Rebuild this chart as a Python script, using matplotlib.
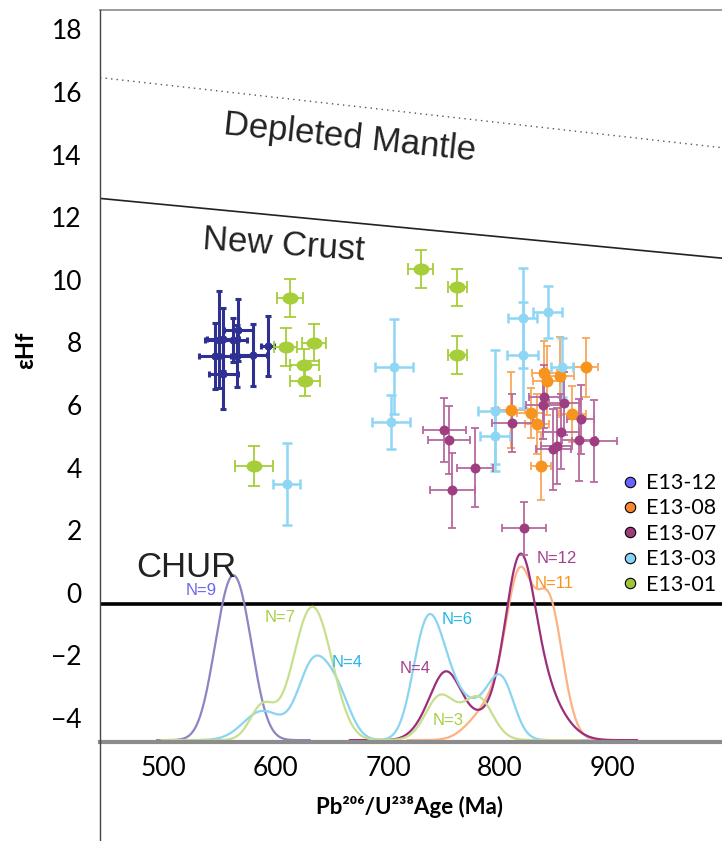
import numpy as np
import matplotlib.pyplot as plt
from matplotlib.lines import Line2D
from matplotlib.path import Path

# --- 1. DATA ---
samples = ["E13-12", "E13-08", "E13-07", "E13-03", "E13-01"]

# U-Pb age (Ma), eHf and 2 sigma errors for each sample
e13_12_age = [566.3, 552.9, 549.1, 561.9, 545.5, 564.9, 579.2, 592.6, 552.9]
e13_12_ehf = [8.40, 8.10, 8.08, 8.08, 7.57, 7.57, 7.60, 7.89, 6.98]
e13_12_xerr = [13, 14, 12, 12, 14, 14, 13, 6, 13]
e13_12_yerr = [1.0, 1.0, 1.55, 0.7, 1.05, 1.0, 1.0, 0.95, 1.1]

e13_08_age = [876.5, 839.6, 841.7, 853.6, 809.8, 827.4, 832.8, 864.6, 836.6]
e13_08_ehf = [7.20, 7.03, 6.78, 6.93, 5.84, 5.75, 5.39, 5.71, 4.05]
e13_08_xerr = [10.7, 11, 12, 12, 12, 12, 11, 12, 9]
e13_08_yerr = [0.94, 1.0, 1.1, 1.25, 1.2, 0.8, 0.95, 0.9, 1.1]

e13_07_age = [750.3, 754.5, 777.7, 757.4, 811.0, 839.6, 838.7, 857.4, 872.1,
              854.5, 870.5, 884.2, 847.6, 850.6, 821.4]
e13_07_ehf = [5.20, 4.88, 4.00, 3.28, 5.42, 6.27, 6.00, 6.05, 5.54,
              5.15, 4.88, 4.85, 4.58, 4.69, 2.06]
e13_07_xerr = [19, 19, 16, 20, 18, 14, 16, 14, 12, 16, 15, 20, 16, 14, 20]
e13_07_yerr = [1.02, 1.1, 1.25, 1.2, 0.92, 1.0, 1.1, 1.0, 1.1, 1.2, 1.3, 1.3,
               1.3, 1.2, 0.85]

e13_03_age = [609.8, 705.6, 702.7, 820.2, 820.2, 795.5, 795.5, 842.6, 855.1]
e13_03_ehf = [3.48, 7.22, 5.45, 8.77, 7.60, 5.82, 5.01, 8.98, 7.20]
e13_03_xerr = [12, 17, 17, 13, 14, 15, 13, 13, 10]
e13_03_yerr = [1.3, 1.52, 0.86, 1.6, 1.7, 1.93, 0.9, 0.83, 0.95]

e13_01_age = [612.5, 608.7, 633.9, 625.3, 625.9, 580.6, 729.2, 761.9, 761.9]
e13_01_ehf = [9.41, 7.86, 7.99, 7.28, 6.78, 4.05, 10.34, 9.76, 7.60]
e13_01_xerr = [11.6, 10, 11, 13, 13, 17, 11, 8.6, 8.6]
e13_01_yerr = [0.6, 0.6, 0.6, 0.5, 0.5, 0.65, 0.6, 0.6, 0.6]

# ages + errors behind the probability density curves at the bottom
kde_e13_12_age = [548, 552, 555, 559, 562, 565, 569, 572, 576]
kde_e13_12_err = [12, 12, 12, 12, 12, 12, 12, 12, 12]
kde_e13_08_age = [785, 803, 811, 816, 819, 822, 829, 838, 843, 847, 853]
kde_e13_08_err = [15, 12, 11, 10, 10, 11, 12, 10, 10, 10, 11]
kde_e13_07_age = [738, 748, 756, 766, 792, 806, 810, 813, 816, 818, 820, 823,
                  827, 832, 840, 850]
kde_e13_07_err = [13, 11, 11, 14, 16, 12, 12, 11, 11, 11, 11, 11, 12, 12, 14, 16]
kde_e13_03_age = [588, 630, 636, 655, 728, 736, 744, 756, 786, 802]
kde_e13_03_err = [17, 13, 13, 12, 11, 11, 12, 14, 16, 11]
kde_e13_01_age = [588, 620, 625, 630, 635, 640, 647, 745, 762, 782]
kde_e13_01_err = [11, 14, 14, 14, 14, 14, 14, 12, 20, 12]
# peak height of each curve above the base line (eHf units)
kde_peak = [5.27, 5.54, 5.96, 4.03, 4.26]

# evolution lines
dm_age = [443, 998]
dm_ehf = [16.46, 14.22]
nc_age = [443, 998]
nc_ehf = [12.60, 10.69]
chur_ehf = -0.36

# --- 2. STYLE ---
dot_colors = ["#2e3192", "#f7941d", "#9e3d80", "#8fd6f5", "#a6ce39"]
bar_colors = ["#2e3192", "#f8a75a", "#b86a9f", "#8fd6f5", "#a6ce39"]
kde_colors = ["#8b86c3", "#fbb383", "#9c2e7a", "#8ad4f2", "#c8df8e"]
leg_colors = ["#6666ff", "#f7882f", "#9e3d7c", "#87d3f3", "#9ec63b"]
label_colors = ["#6b66f0", "#f7941d", "#a5418c", "#26b5e6", "#a8cf45"]

# wide ellipse marker for E13-01
circ = Path.unit_circle()
ellipse = Path(circ.vertices * np.array([1.0, 0.75]), circ.codes)

XMIN, XMAX = 443, 998
YMIN, YMAX = -4.76, 18.62

fig = plt.figure(figsize=(7.22, 8.41), dpi=100)
ax = fig.add_axes([100 / 722, (841 - 741.7) / 841, 622 / 722, 731.7 / 841])

# --- 3. EVOLUTION LINES ---
ax.plot(dm_age, dm_ehf, color="#555555", lw=1.0, ls=(0, (1, 3)))
ax.plot(nc_age, nc_ehf, color="#222222", lw=1.2)
ax.axhline(chur_ehf, color="black", lw=2.6)

txt_font = ["Liberation Sans", "DejaVu Sans"]
ax.text(666, 14.55, "Depleted Mantle", fontsize=25, rotation=-6, color="#222222",
        ha="center", va="center", family=txt_font)
ax.text(607, 11.11, "New Crust", fontsize=25, rotation=-4, color="#222222",
        ha="center", va="center", family=txt_font)
ax.text(520, 0.81, "CHUR", fontsize=25, color="#222222",
        ha="center", va="center", family=txt_font)

# --- 4. PROBABILITY DENSITY CURVES ---
kde_ages = [kde_e13_12_age, kde_e13_08_age, kde_e13_07_age, kde_e13_03_age, kde_e13_01_age]
kde_errs = [kde_e13_12_err, kde_e13_08_err, kde_e13_07_err, kde_e13_03_err, kde_e13_01_err]
for ages, errs, peak, col in zip(kde_ages, kde_errs, kde_peak, kde_colors):
    a = np.asarray(ages, float)[:, None]
    s = np.asarray(errs, float)[:, None]
    grid = np.linspace(a.min() - 4.5 * s.max(), a.max() + 4.5 * s.max(), 600)
    dens = (np.exp(-0.5 * ((grid - a) / s) ** 2) / (s * np.sqrt(2 * np.pi))).sum(axis=0)
    ax.plot(grid, YMIN + 0.05 + peak * dens / dens.max(), color=col, lw=1.6, zorder=2)

n_labels = [(533.7, 0.07, "N=9", 0), (603.6, -0.78, "N=7", 4), (663.1, -2.22, "N=4", 3),
            (724.1, -2.41, "N=4", 2), (761.9, -0.85, "N=6", 3), (753.8, -4.09, "N=3", 4),
            (850.6, 1.10, "N=12", 2), (848.2, 0.30, "N=11", 1)]
for x, y, t, ci in n_labels:
    ax.text(x, y, t, fontsize=12, color=label_colors[ci], ha="center", va="center",
            family=txt_font)

# --- 5. Hf DATA WITH ERROR BARS ---
groups = [
    (e13_12_age, e13_12_ehf, e13_12_xerr, e13_12_yerr, 0, "o", 5.8, 2.2, 2.5),
    (e13_08_age, e13_08_ehf, e13_08_xerr, e13_08_yerr, 1, "o", 8.6, 1.3, 3.0),
    (e13_03_age, e13_03_ehf, e13_03_xerr, e13_03_yerr, 3, "o", 7.2, 1.8, 3.5),
    (e13_07_age, e13_07_ehf, e13_07_xerr, e13_07_yerr, 2, "o", 7.2, 1.3, 3.0),
    (e13_01_age, e13_01_ehf, e13_01_xerr, e13_01_yerr, 4, ellipse, 11.5, 1.3, 4.5),
]
for age, ehf, xe, ye, ci, mk, ms, elw, cap in groups:
    ax.errorbar(age, ehf, xerr=xe, yerr=ye, fmt="none", ecolor=bar_colors[ci],
                elinewidth=elw, capsize=cap, capthick=elw, zorder=3)
    ax.plot(age, ehf, ls="", marker=mk, ms=ms, color=dot_colors[ci], mew=0, zorder=4)

# --- 6. AXES ---
ax.set_xlim(XMIN, XMAX)
ax.set_ylim(YMIN, YMAX)
ax.set_xticks([500, 600, 700, 800, 900])
ax.set_yticks(np.arange(-4, 19, 2))
num_font = ["Lato", "DejaVu Sans"]
ax.tick_params(length=0, labelsize=19)
ax.tick_params(axis="y", pad=13)
ax.tick_params(axis="x", pad=10)
for lab in ax.get_xticklabels() + ax.get_yticklabels():
    lab.set_family(num_font)

ax.spines["right"].set_visible(False)
ax.spines["left"].set_visible(False)
ax.spines["top"].set_color("#8a8a8a")
ax.spines["top"].set_linewidth(1.2)
ax.spines["bottom"].set_color("#8c8c8c")
ax.spines["bottom"].set_linewidth(3)
# left axis line runs down to the bottom of the figure
fig.add_artist(Line2D([100 / 722, 100 / 722], [0, 1 - 10 / 841], color="#444444", lw=1.0))

ax.set_xlabel("Pb²⁰⁶/U²³⁸Age (Ma)", fontsize=16, fontweight="bold", family=num_font)
ax.set_ylabel("εHf", fontsize=17, fontweight="bold", family=num_font)
ax.xaxis.set_label_coords(0.498, -0.074)
ax.yaxis.set_label_coords(-0.101, 0.535)

handles = [Line2D([], [], ls="", marker="o", ms=7.5, mfc=c, mec="black", mew=0.8)
           for c in leg_colors]
ax.legend(handles, samples, loc="upper left", bbox_to_anchor=(0.821, 0.3818),
          frameon=False, borderpad=0, handlelength=0.8, handletextpad=0.35,
          labelspacing=0.25, prop={"family": num_font, "size": 15.5})

fig.savefig("out.png", dpi=100)
